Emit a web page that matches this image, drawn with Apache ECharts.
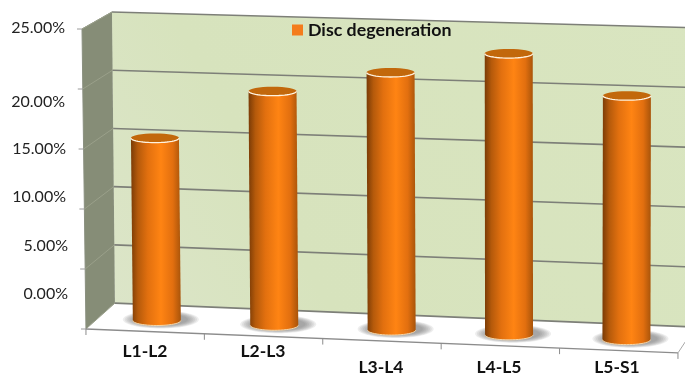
<!DOCTYPE html>
<html>
<head>
<meta charset="utf-8">
<style>html,body{margin:0;background:#fff}#chart{width:685px;height:376px}</style>
<script src="https://cdn.jsdelivr.net/npm/echarts@6/dist/echarts.min.js"></script>
</head>
<body>
<div id="chart"></div>
<script>
// Disc degeneration prevalence per lumbar level
const categories = ['L1-L2', 'L2-L3', 'L3-L4', 'L4-L5', 'L5-S1'];
const discDegeneration = [15.35, 19.6, 21.45, 23.3, 20.1];
const gridValues = [0, 5, 10, 15, 20, 25];

// Flat plot rectangle used by the axes
const GRID = { left: 86, top: 29, width: 590, height: 303 };

// Corners of the box in screen space: front (F) and back (B), floor (0) and ceiling (1)
const F00 = [86, 332], F10 = [678, 356], F01 = [82, 29], F11 = [674, 45];
const B00 = [115, 306], B10 = [695, 330], B01 = [112, 12], B11 = [703, 28];
const BAR_DEPTH = 0.42;
const BAR_RX = 24, TOP_RY = 4.5, BASE_RY = 5;

const mix = (a, b, t) => [a[0] + (b[0] - a[0]) * t, a[1] + (b[1] - a[1]) * t];

// Maps a point of the flat plot rectangle plus a depth (0 front, 1 back) into the box
function toBox(pt, d) {
  const u = (pt[0] - GRID.left) / GRID.width;
  const w = (GRID.top + GRID.height - pt[1]) / GRID.height;
  const front = mix(mix(F00, F10, u), mix(F01, F11, u), w);
  const back = mix(mix(B00, B10, u), mix(B01, B11, u), w);
  return mix(front, back, d);
}

function arc(cx, cy, rx, ry, a0, a1, n) {
  const out = [];
  for (let i = 0; i <= n; i++) {
    const a = a0 + (a1 - a0) * i / n;
    out.push([cx + rx * Math.cos(a), cy + ry * Math.sin(a)]);
  }
  return out;
}

// Labels sit off their ticks on this chart, so each gets its own shift
const yLabelStyle = {
  s0:  { padding: [0, 0, 70, 0] },
  s5:  { padding: [0, 0, 46, 0] },
  s10: { padding: [0, 2, 24, 0] },
  s15: { padding: [0, 2, 0, 0] },
  s20: { padding: [26, 3, 0, 0] },
  s25: { padding: [0, 3, 2, 0] }
};
const xLabelStyle = { high: { padding: [0, 0, 0, 0] }, low: { padding: [16, 0, 0, 0] } };
const X_LABEL_FONT = { fontFamily: 'Lato', fontWeight: 'bold', fontSize: 17.5, color: '#111' };

function renderBox(params, api) {
  const xEnd = GRID.left + GRID.width;
  const yBase = api.coord([0, 0])[1];
  const yCeil = api.coord([0, 25])[1];
  const P = (x, y, d) => toBox([x, y], d);
  const children = [];
  // walls and floor
  children.push({ type: 'polygon', shape: { points: [P(GRID.left, yBase, 0), P(GRID.left, yBase, 1), P(GRID.left, yCeil, 1), P(GRID.left, yCeil, 0)] },
    style: { fill: '#868d77', stroke: '#8a9080', lineWidth: 1 } });
  children.push({ type: 'polygon', shape: { points: [P(GRID.left, yBase, 1), P(xEnd, yBase, 1), P(xEnd, yCeil, 1), P(GRID.left, yCeil, 1)] },
    style: { fill: new echarts.graphic.LinearGradient(0, 1, 1, 0, [
      { offset: 0, color: '#dce5c9' }, { offset: 0.3, color: '#d7e3bd' }, { offset: 1, color: '#d9e5c0' }]) } });
  children.push({ type: 'polygon', shape: { points: [P(GRID.left, yBase, 0), P(xEnd, yBase, 0), P(xEnd, yBase, 1), P(GRID.left, yBase, 1)] },
    style: { fill: '#ffffff' } });
  // grid lines across both walls
  gridValues.forEach(v => {
    const y = api.coord([0, v])[1];
    const a = P(GRID.left, y, 0), b = P(GRID.left, y, 1), c = P(xEnd, y, 1);
    children.push({ type: 'polyline', shape: { points: [[a[0] - 5, a[1]], a] }, style: { fill: null, stroke: '#9a9a9a', lineWidth: 1 } });
    children.push({ type: 'polyline', shape: { points: [a, b] }, style: { fill: null, stroke: '#9aa08a', lineWidth: 1 } });
    children.push({ type: 'polyline', shape: { points: [b, c] }, style: { fill: null, stroke: '#7d7f78', lineWidth: 1.6 } });
  });
  // front floor edge with its category ticks
  const f0 = P(GRID.left, yBase, 0), f1 = P(xEnd, yBase, 0);
  children.push({ type: 'polyline', shape: { points: [f0, f1] }, style: { fill: null, stroke: '#8c8c8c', lineWidth: 1.4 } });
  children.push({ type: 'polyline', shape: { points: [f1, P(xEnd, yBase, 1)] }, style: { fill: null, stroke: '#a8a8a8', lineWidth: 1 } });
  for (let i = 0; i <= categories.length; i++) {
    const t = P(GRID.left + GRID.width * i / categories.length, yBase, 0);
    children.push({ type: 'polyline', shape: { points: [t, [t[0], t[1] + 6]] }, style: { fill: null, stroke: '#8c8c8c', lineWidth: 1 } });
  }
  return { type: 'group', children };
}

// Soft floor shadow built from stacked translucent ellipses
function floorShadow(base) {
  const out = [];
  for (let k = 0; k < 7; k++) {
    out.push({ type: 'ellipse',
      shape: { cx: base[0] + 4, cy: base[1] - 1, rx: BAR_RX + 14 - k * 1.8, ry: BASE_RY + 4 - k * 0.5 },
      style: { fill: 'rgba(100,100,100,0.11)' } });
  }
  return out;
}

function renderCylinder(params, api) {
  const i = api.value(0);
  const base = toBox(api.coord([i, 0]), BAR_DEPTH);
  const top = toBox(api.coord([i, api.value(1)]), BAR_DEPTH);
  const body = [[top[0] - BAR_RX, top[1]], [base[0] - BAR_RX, base[1]]]
    .concat(arc(base[0], base[1], BAR_RX, BASE_RY, Math.PI, 0, 24))
    .concat([[top[0] + BAR_RX, top[1]]]);
  return {
    type: 'group',
    children: floorShadow(base).concat([
      { type: 'polygon', shape: { points: body },
        style: { fill: new echarts.graphic.LinearGradient(0, 0, 1, 0, [
          { offset: 0, color: '#7a3b06' }, { offset: 0.14, color: '#b55a0b' },
          { offset: 0.34, color: '#e2700f' }, { offset: 0.6, color: '#ff8413' },
          { offset: 0.84, color: '#e26f0f' }, { offset: 1, color: '#a8540a' }]) } },
      { type: 'polyline', shape: { points: arc(base[0], base[1], BAR_RX, BASE_RY, Math.PI, 0, 24) },
        style: { fill: null, stroke: '#f6d6a8', lineWidth: 1 } },
      { type: 'ellipse', shape: { cx: top[0], cy: top[1], rx: BAR_RX, ry: TOP_RY },
        style: { fill: '#c2680c' } },
      { type: 'polyline', shape: { points: arc(top[0], top[1], BAR_RX, TOP_RY, Math.PI, 0, 24) },
        style: { fill: null, stroke: '#fff3e0', lineWidth: 1.3 } }
    ])
  };
}

const chart = echarts.init(document.getElementById('chart'), null, { renderer: 'canvas' });
chart.setOption({
  animation: false,
  backgroundColor: '#ffffff',
  textStyle: { fontFamily: 'Lato' },
  grid: GRID,
  legend: {
    left: 287, top: 16, data: [{ name: 'Disc degeneration', icon: 'rect', itemStyle: { color: '#f47c1c' } }],
    itemWidth: 11, itemHeight: 11, itemGap: 5,
    textStyle: { fontFamily: 'Lato', fontWeight: 'bold', fontSize: 17.8, color: '#111' }
  },
  xAxis: {
    type: 'category', data: categories,
    axisLine: { show: false }, axisTick: { show: false }, splitLine: { show: false },
    axisLabel: {
      interval: 0, hideOverlap: false,
      margin: 13, color: '#111', verticalAlign: 'top',
      fontFamily: 'Lato', fontWeight: 'bold', fontSize: 17.5,
      formatter: (v, idx) => `{${idx < 2 ? 'high' : 'low'}|${v}}`,
      rich: {
        high: Object.assign({}, X_LABEL_FONT, xLabelStyle.high),
        low: Object.assign({}, X_LABEL_FONT, xLabelStyle.low)
      }
    }
  },
  yAxis: {
    type: 'value', min: 0, max: 25, interval: 5,
    axisLine: { show: false }, axisTick: { show: false }, splitLine: { show: false },
    axisLabel: {
      margin: 18, color: '#222', fontFamily: 'Lato', fontSize: 16,
      formatter: v => `{s${v}|${v.toFixed(2)}%}`,
      rich: Object.fromEntries(Object.entries(yLabelStyle).map(([k, s]) =>
        [k, Object.assign({ fontFamily: 'Lato', fontSize: 16, color: '#222' }, s)]))
    }
  },
  series: [
    { type: 'custom', name: 'box', silent: true, clip: false, z: 1, renderItem: renderBox, data: [[0, 0]], encode: { x: 0, y: 1 } },
    { type: 'custom', name: 'Disc degeneration', silent: true, clip: false, z: 2, renderItem: renderCylinder,
      data: discDegeneration.map((v, i) => [i, v]), encode: { x: 0, y: 1 }, itemStyle: { color: '#f47c1c' } }
  ]
});
</script>
</body>
</html>
